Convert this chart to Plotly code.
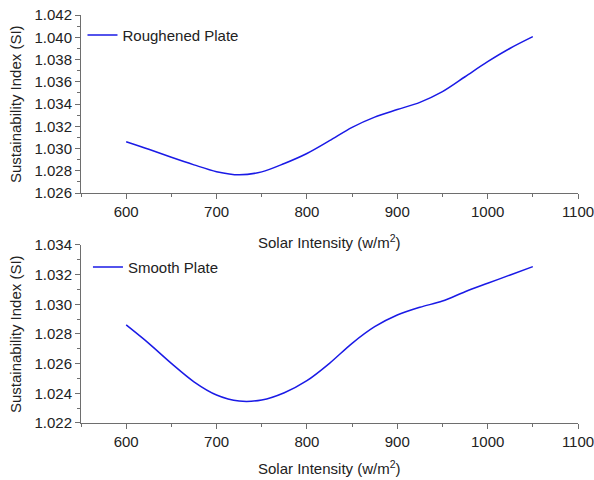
import plotly.graph_objects as go

x_rough = [600, 625, 650, 675, 700, 725, 750, 775, 800, 825, 850, 875, 900, 925, 950, 975, 1000, 1025, 1050]
y_rough = [1.03061, 1.02993, 1.02921, 1.02853, 1.02792, 1.02764, 1.02790, 1.02865, 1.02955, 1.03070,
           1.03190, 1.03282, 1.03350, 1.03415, 1.03511, 1.03645, 1.03780, 1.03901, 1.04005]

x_smooth = [600, 625, 650, 675, 700, 725, 750, 775, 800, 825, 850, 875, 900, 925, 950, 975, 1000, 1025, 1050]
y_smooth = [1.02861, 1.02737, 1.02602, 1.02478, 1.02389, 1.02348, 1.02355, 1.02404, 1.02485,
            1.02602, 1.02737, 1.02849, 1.02928, 1.02980, 1.03022, 1.03085, 1.03142, 1.03198, 1.03254]

x_ticks = [600, 700, 800, 900, 1000, 1100]
x_title = "Solar Intensity (w/m<sup>2</sup>)"
y_title = "Sustainability Index (SI)"

FONT = "Arial, Liberation Sans, sans-serif"
FS = 15
LINE = "#1a1ae6"
AX = "#6e6e6e"
TXT = "#222222"

fig = go.Figure()
fig.add_trace(go.Scatter(x=x_rough, y=y_rough, mode="lines", name="Roughened Plate",
                         line=dict(color=LINE, width=1.5, shape="spline", smoothing=0.9),
                         xaxis="x", yaxis="y", legend="legend"))
fig.add_trace(go.Scatter(x=x_smooth, y=y_smooth, mode="lines", name="Smooth Plate",
                         line=dict(color=LINE, width=1.5, shape="spline", smoothing=0.9),
                         xaxis="x2", yaxis="y2", legend="legend2"))

def xax(anchor):
    return dict(domain=[0, 1], anchor=anchor, range=[550, 1100], tickvals=x_ticks,
                showline=True, linecolor=AX, linewidth=1, ticks="outside", ticklen=5,
                tickcolor=AX, showgrid=False, zeroline=False, ticklabeloverflow="allow",
                automargin=False,
                tickfont=dict(family=FONT, size=FS, color=TXT),
                minor=dict(ticks="outside", ticklen=3, tickcolor=AX, dtick=50, tick0=550, showgrid=False))

def yax(anchor, dom, rng, dt):
    return dict(domain=dom, anchor=anchor, range=rng, dtick=dt, tick0=rng[0], tickformat=".3f",
                showline=True, linecolor=AX, linewidth=1, ticks="outside", ticklen=5,
                tickcolor=AX, showgrid=False, zeroline=False, ticklabeloverflow="allow",
                automargin=False,
                tickfont=dict(family=FONT, size=FS, color=TXT),
                minor=dict(ticks="outside", ticklen=3, tickcolor=AX, dtick=0.001, showgrid=False))

fig.update_layout(
    width=594, height=480,
    margin=dict(l=81, r=16, t=15, b=57),
    paper_bgcolor="white", plot_bgcolor="white",
    font=dict(family=FONT, size=FS, color=TXT),
    xaxis=xax("y"),
    yaxis=yax("x", [0.5637, 1.0], [1.026, 1.042], 0.002),
    xaxis2=xax("y2"),
    yaxis2=yax("x2", [0.0, 0.4363], [1.022, 1.034], 0.002),
    legend=dict(x=0.003, y=0.991, xanchor="left", yanchor="top", bgcolor="rgba(0,0,0,0)",
                font=dict(family=FONT, size=FS, color=TXT), tracegroupgap=0),
    legend2=dict(x=0.014, y=0.422, xanchor="left", yanchor="top", bgcolor="rgba(0,0,0,0)",
                 font=dict(family=FONT, size=FS, color=TXT), tracegroupgap=0),
    showlegend=True,
)

for ypix in (241, 467):
    fig.add_annotation(text=x_title, xref="paper", yref="paper", x=0.5, y=(423 - ypix) / 408,
                       xanchor="center", yanchor="middle", showarrow=False,
                       font=dict(family=FONT, size=FS, color=TXT))
for ypix in (104, 334):
    fig.add_annotation(text=y_title, xref="paper", yref="paper", x=(15 - 81) / 497, y=(423 - ypix) / 408,
                       xanchor="center", yanchor="middle", showarrow=False, textangle=-90,
                       font=dict(family=FONT, size=FS, color=TXT))

fig.write_html("out.html")
